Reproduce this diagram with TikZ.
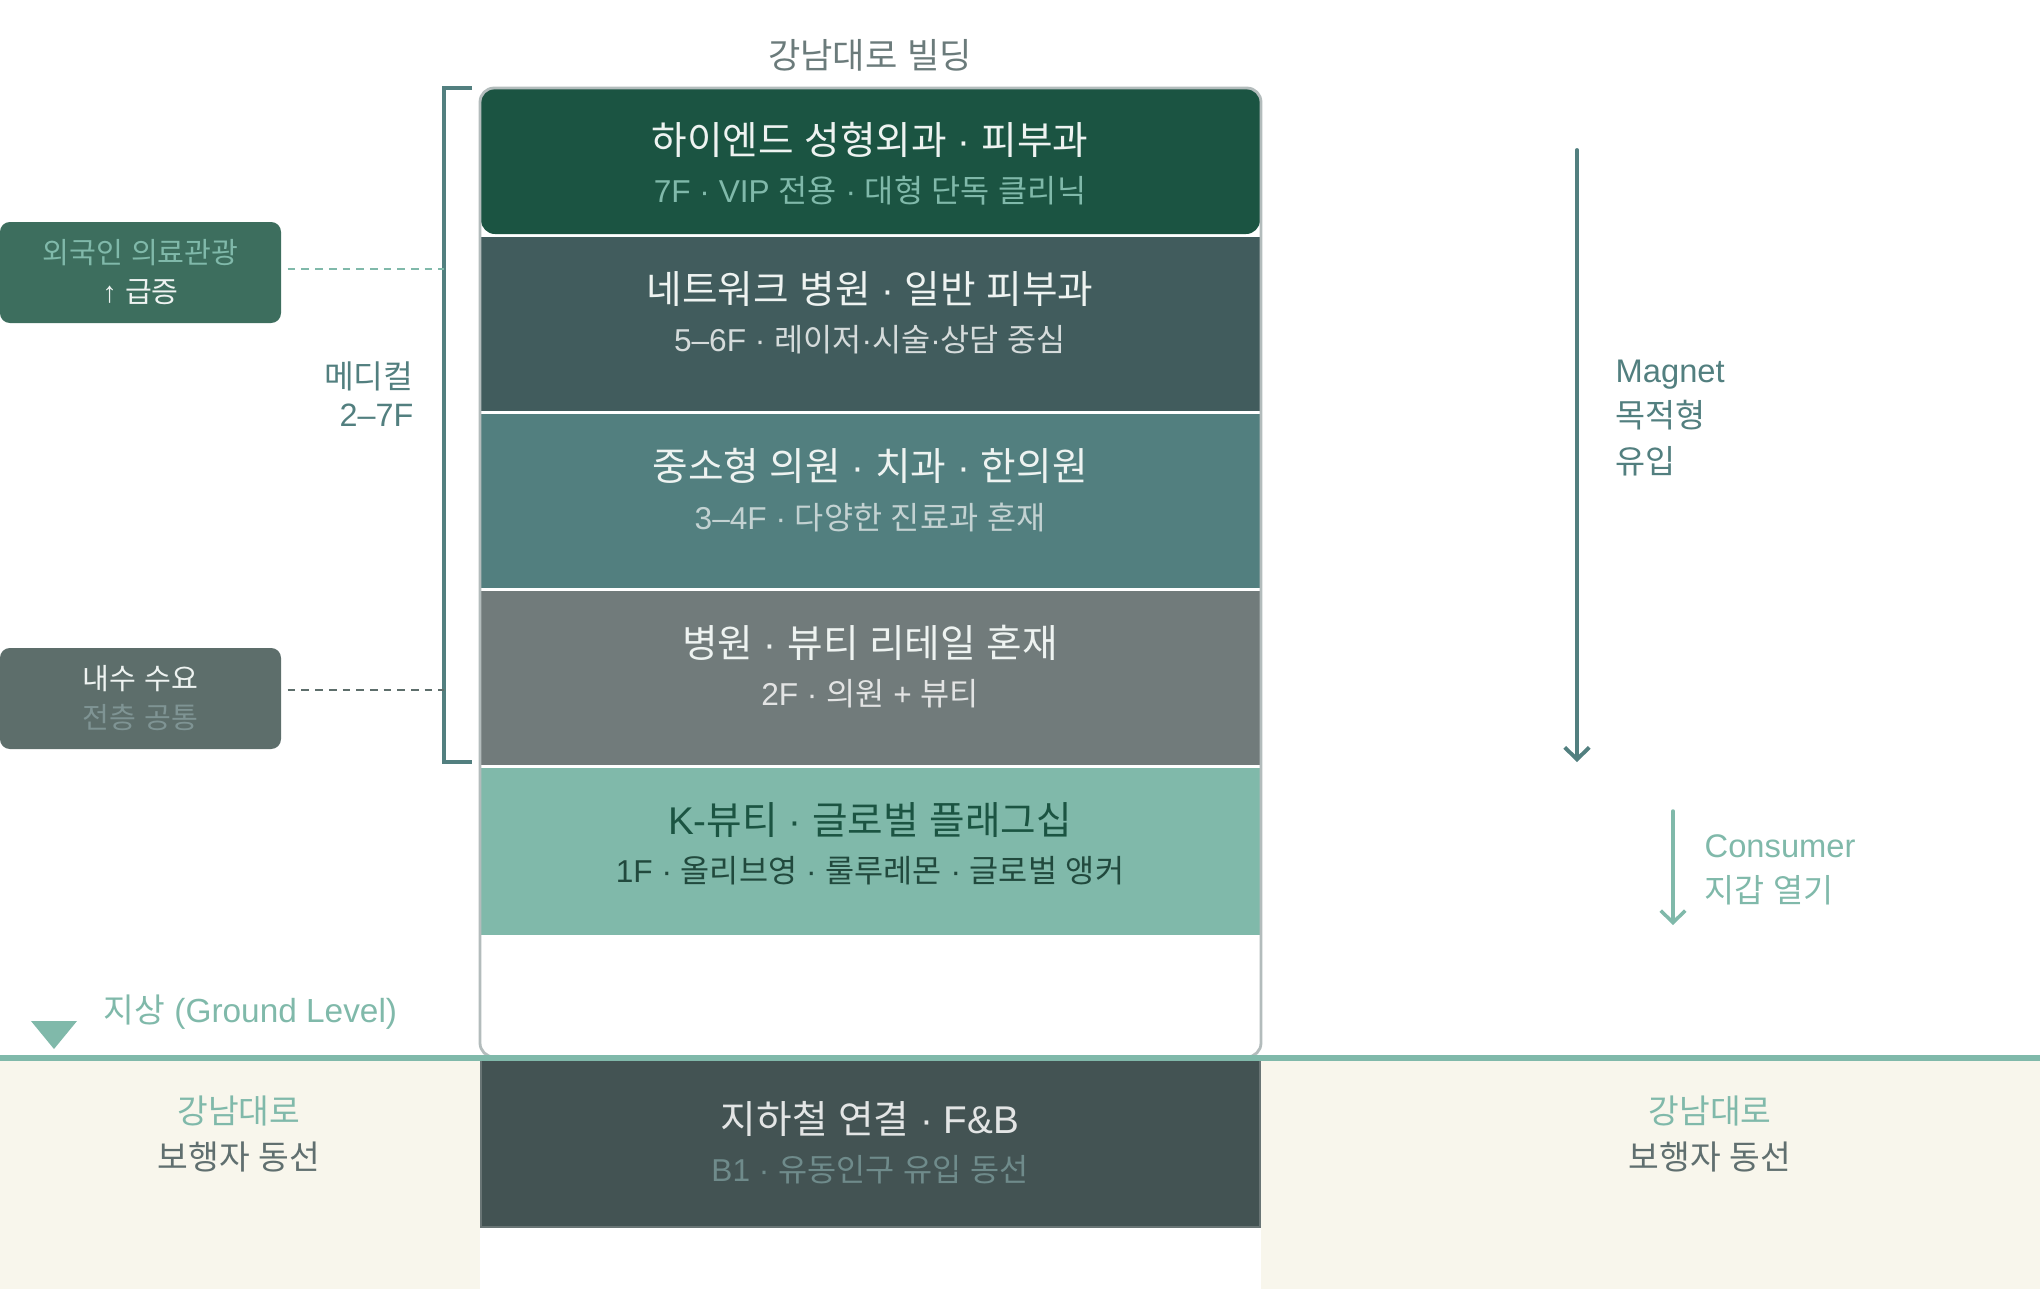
\documentclass[tikz,border=0pt]{standalone}
\usepackage{fontspec}
\setmainfont{Liberation Sans}
\newfontfamily\krfont{Noto Sans CJK KR}
\usepackage{xcolor}
\usepackage{tikz}
\usetikzlibrary{arrows.meta, calc}

% Hangul syllables in the CJK font, everything else in the main font
\XeTeXinterchartokenstate=1
\newXeTeXintercharclass\hangulclass
\count255="AC00
\loop
  \XeTeXcharclass\count255=\hangulclass
  \ifnum\count255<"D7A3 \advance\count255 by 1
\repeat
\XeTeXinterchartoks 0 \hangulclass = {\krfont}
\XeTeXinterchartoks 4095 \hangulclass = {\krfont}
\XeTeXinterchartoks \hangulclass 0 = {\rmfamily}
\XeTeXinterchartoks \hangulclass 4095 = {\rmfamily}

\definecolor{floorseven}{HTML}{1B5442}
\definecolor{floorfive}{HTML}{415C5D}
\definecolor{floorthree}{HTML}{527F7F}
\definecolor{floortwo}{HTML}{717B7B}
\definecolor{floorone}{HTML}{80B9AA}
\definecolor{basement}{HTML}{435353}
\definecolor{basementtext}{HTML}{6F8B8B}
\definecolor{slate}{HTML}{527F7F}
\definecolor{mint}{HTML}{80B9AA}
\definecolor{mutedgray}{HTML}{6B7B7B}
\definecolor{sand}{HTML}{F8F6EC}
\definecolor{framegray}{HTML}{B3BCBC}
\definecolor{tourfill}{HTML}{3D6E5E}
\definecolor{localfill}{HTML}{5D6E6B}
\definecolor{localtext}{HTML}{7F9494}
\definecolor{paleline}{HTML}{EEF3F1}

\begin{document}
\begin{tikzpicture}[scale=1.0,
  floortitle/.style={font=\fontsize{11pt}{12pt}\selectfont},
  floorsub/.style={font=\fontsize{9pt}{10pt}\selectfont},
  sidebox/.style={rounded corners=2.8pt, minimum width=2.81cm, minimum height=1.01cm,
    inner sep=0pt, align=center, font=\fontsize{8.3pt}{11.1pt}\selectfont},
  sidelabel/.style={inner sep=0pt, font=\fontsize{9.3pt}{12.9pt}\selectfont},
  tip/.style={-{Straight Barb[length=3.4pt,width=7pt]}, line cap=round}]

  \useasboundingbox (0,0) rectangle (20.40,-12.89);

  % Underground strip
  \fill[sand] (0,-10.60) rectangle (4.80,-12.89);
  \fill[sand] (12.61,-10.60) rectangle (20.40,-12.89);

  % Building title
  \node[text=mutedgray, font=\fontsize{10pt}{12pt}\selectfont] (bldgtitle) at (8.70,-0.55) {강남대로 빌딩};

  % Floor macro
  \newcommand{\floorband}[8]{
    % #1: name, #2: top y, #3: bottom y, #4: fill options, #5: title, #6: subtitle, #7: title colour, #8: subtitle colour
    \fill[#4] (4.81,#2) rectangle (12.60,#3);
    \node[floortitle, text=#7] (#1title) at (8.70,#2-0.52) {#5};
    \node[floorsub, text=#8] (#1sub) at (8.70,#2-1.03) {#6};
  }

  % Floors, top to bottom
  \floorband{fseven}{-0.88}{-2.34}{floorseven, rounded corners=4pt}{하이엔드 성형외과 · 피부과}{7F · VIP 전용 · 대형 단독 클리닉}{paleline}{mint}
  \floorband{ffive}{-2.37}{-4.11}{floorfive}{네트워크 병원 · 일반 피부과}{5–6F · 레이저·시술·상담 중심}{paleline}{white!78!floorfive}
  \floorband{fthree}{-4.14}{-5.88}{floorthree}{중소형 의원 · 치과 · 한의원}{3–4F · 다양한 진료과 혼재}{paleline}{white!65!floorthree}
  \floorband{ftwo}{-5.91}{-7.65}{floortwo}{병원 · 뷰티 리테일 혼재}{2F · 의원 + 뷰티}{paleline}{white!80!floortwo}
  \floorband{fone}{-7.68}{-9.35}{floorone}{K-뷰티 · 글로벌 플래그십}{1F · 올리브영 · 룰루레몬 · 글로벌 앵커}{floorseven}{floorseven!80!floorone!70!black}

  % Building frame
  \draw[framegray, line width=0.8pt, rounded corners=4pt] (4.80,-0.88) rectangle (12.61,-10.57);

  % Basement
  \fill[basement, draw=basement!80!white, line width=0.5pt] (4.81,-10.60) rectangle (12.60,-12.27);
  \node[floortitle, text=white!85!basement] (bonetitle) at (8.70,-11.19) {지하철 연결 · F\&B};
  \node[floorsub, text=basementtext] (bonesub) at (8.70,-11.70) {B1 · 유동인구 유입 동선};

  % Ground line
  \draw[mint, line width=1.5pt] (0,-10.58) -- (20.40,-10.58);
  \fill[mint] (0.31,-10.21) -- (0.77,-10.21) -- (0.54,-10.49) -- cycle;
  \node[sidelabel, text=mint, anchor=west, font=\fontsize{9.5pt}{12.9pt}\selectfont] (groundlbl) at (1.03,-10.12) {지상 (Ground Level)};

  % Street labels
  \node[sidelabel, align=center, font=\fontsize{9.5pt}{12.9pt}\selectfont] (streetleft) at (2.39,-11.34) {\textcolor{mint}{강남대로}\\\textcolor{mutedgray!90!black}{보행자 동선}};
  \node[sidelabel, align=center, font=\fontsize{9.5pt}{12.9pt}\selectfont] (streetright) at (17.10,-11.34) {\textcolor{mint}{강남대로}\\\textcolor{mutedgray!90!black}{보행자 동선}};

  % Medical bracket
  \coordinate (brktop) at (4.44,-0.88);
  \coordinate (brkbot) at (4.44,-7.62);
  \draw[slate, line width=0.9pt] ($(brktop)+(0.28,0)$) -- (brktop) -- (brkbot) -- ($(brkbot)+(0.28,0)$);
  \node[sidelabel, text=slate, anchor=east, align=right, font=\fontsize{9.2pt}{10.8pt}\selectfont] (medlbl) at (4.14,-3.94) {메디컬\\2–7F};

  % Demand boxes
  \node[sidebox, fill=tourfill] (tourbox) at (1.405,-2.725) {\textcolor{mint}{외국인 의료관광}\\\textcolor{paleline}{↑ 급증}};
  \node[sidebox, fill=localfill] (localbox) at (1.405,-6.985) {\textcolor{paleline}{내수 수요}\\\textcolor{localtext}{전층 공통}};
  \coordinate (tourtap) at (4.44,-2.69);
  \coordinate (localtap) at (4.44,-6.90);
  \draw[mint, line width=0.7pt, dash pattern=on 2.2pt off 1.7pt, shorten <=1.7pt] (tourbox.east |- tourtap) -- (tourtap);
  \draw[localfill, line width=0.7pt, dash pattern=on 2.2pt off 1.7pt, shorten <=1.7pt] (localbox.east |- localtap) -- (localtap);

  % Flow arrows
  \coordinate (magnettop) at (15.77,-1.50);
  \coordinate (magnetend) at (15.77,-7.62);
  \draw[slate, line width=1.1pt, tip] (magnettop) -- (magnetend);
  \node[sidelabel, text=slate, anchor=west, align=left] (magnetlbl) at (16.15,-4.18) {Magnet\\목적형\\유입};

  \coordinate (consumertop) at (16.73,-8.11);
  \coordinate (consumerend) at (16.73,-9.25);
  \draw[mint, line width=1.0pt, tip] (consumertop) -- (consumerend);
  \node[sidelabel, text=mint, anchor=west, align=left] (consumerlbl) at (17.04,-8.70) {Consumer\\지갑 열기};

\end{tikzpicture}
\end{document}
